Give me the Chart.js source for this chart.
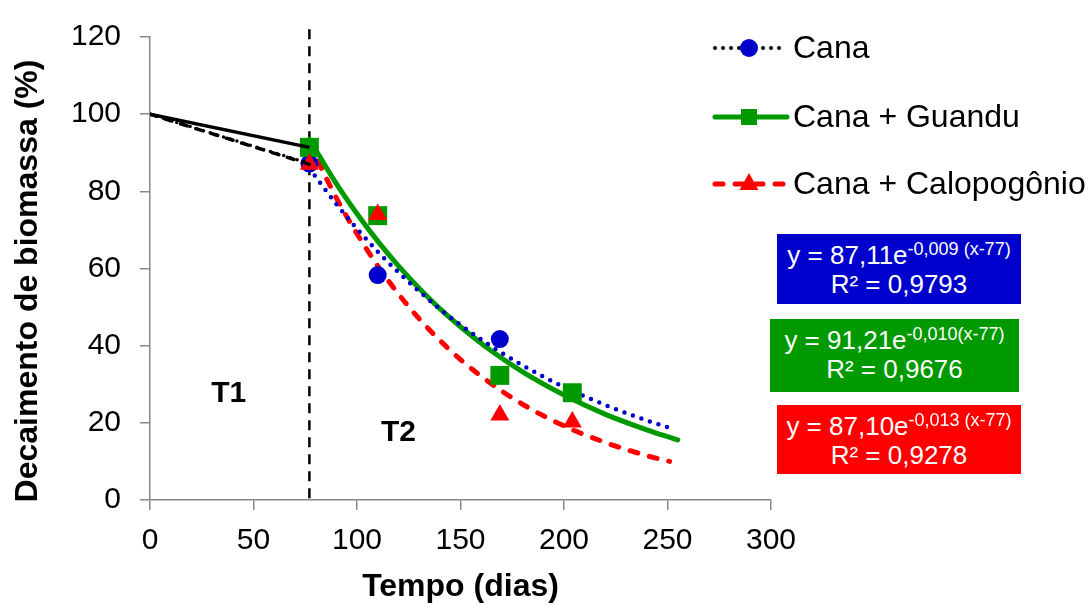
<!DOCTYPE html>
<html lang="pt-BR">
<head>
    <meta charset="UTF-8">
    <title>Decaimento de biomassa</title>
    <script src="https://cdn.jsdelivr.net/npm/chart.js"></script>
    <style>
        body { margin: 0; background: #fff; font-family: "Liberation Sans", Arial, sans-serif; }
        #wrap { position: relative; width: 1091px; height: 606px; }
        canvas { display: block; }
        .eq { position: absolute; color: #fff; text-align: center; font-size: 26px; line-height: 29px; padding-top: 7px; box-sizing: border-box; }
        .eq sup { font-size: 18px; line-height: 0; vertical-align: baseline; position: relative; top: -9px; }
    </style>
</head>
<body>
<div id="wrap">
    <canvas id="grafico" width="1091" height="606"></canvas>
    <div class="eq" style="left:777px; top:234px; width:244px; height:70px; background:#0000cc;">y = 87,11e<sup>-0,009 (x-77)</sup><br>R² = 0,9793</div>
    <div class="eq" style="left:770px; top:319px; width:249px; height:73px; background:#009900;">y = 91,21e<sup>-0,010(x-77)</sup><br>R² = 0,9676</div>
    <div class="eq" style="left:777px; top:405px; width:244px; height:69px; background:#ff0000;">y = 87,10e<sup>-0,013 (x-77)</sup><br>R² = 0,9278</div>
</div>

<script>
    // pontos observados (dias, % remanescente)
    const diasColeta = [77, 110, 169, 204];
    const canaPontos = [87.2, 58.3, 41.7, 27.8];
    const guanduPontos = [91.4, 73.7, 32.3, 27.8];
    const calopoPontos = [87.0, 74.0, 22.0, 20.2];

    // fase T1: do início (0 dias, 100%) até 77 dias
    const t1Dias = [0, 77];
    const canaT1 = [100, 87.2];
    const guanduT1 = [100, 91.4];
    const calopoT1 = [100, 87.0];

    // curvas de ajuste da fase T2
    const canaCurvaX = [77, 90, 100, 110, 120, 130, 140, 150, 165, 180, 200, 220, 240, 250];
    const canaCurvaY = [86.0, 76.7, 70.3, 64.4, 59.0, 54.1, 49.5, 45.4, 39.8, 34.9, 29.3, 24.6, 20.6, 18.9];
    const guanduCurvaX = [77, 90, 100, 110, 120, 130, 140, 150, 165, 180, 200, 220, 240, 255];
    const guanduCurvaY = [93.5, 82.0, 74.2, 67.1, 60.7, 54.9, 49.6, 44.9, 38.6, 33.2, 27.2, 22.2, 18.2, 15.6];
    const calopoCurvaX = [77, 90, 100, 110, 120, 130, 140, 150, 165, 180, 200, 220, 240, 251];
    const calopoCurvaY = [92.5, 78.3, 69.0, 60.7, 53.4, 47.0, 41.4, 36.4, 30.1, 24.8, 19.2, 14.9, 11.5, 10.0];

    // linha vertical que separa T1 de T2 (de cima para baixo)
    const divisaoX = [77, 77];
    const divisaoY = [122, 0];

    const legendas = ['Cana', 'Cana + Guandu', 'Cana + Calopogônio'];
    const fases = ['T1', 'T2'];
    const tituloY = 'Decaimento de biomassa (%)';

    const azul = '#0000cc', verde = '#009900', vermelho = '#ff0000';
    const fonte = '"Liberation Sans", Arial, sans-serif';

    function pares(xs, ys) {
        return xs.map((x, i) => ({ x: x, y: ys[i] }));
    }

    // legenda lateral, título do eixo y e rótulos T1/T2
    const extras = {
        id: 'extras',
        afterDraw(chart) {
            const ctx = chart.ctx;
            const sx = chart.scales.x, sy = chart.scales.y;
            ctx.save();

            // título do eixo y
            ctx.fillStyle = '#000';
            ctx.font = 'bold 32px ' + fonte;
            ctx.textAlign = 'center';
            ctx.textBaseline = 'middle';
            ctx.save();
            ctx.translate(28, 281);
            ctx.rotate(-Math.PI / 2);
            ctx.fillText(tituloY, 0, 0);
            ctx.restore();

            // T1 e T2
            ctx.font = 'bold 30px ' + fonte;
            ctx.fillText(fases[0], sx.getPixelForValue(38), sy.getPixelForValue(27.5));
            ctx.fillText(fases[1], sx.getPixelForValue(120), sy.getPixelForValue(17.4));

            // legenda
            const linhas = [48, 117, 184];
            const x0 = 715, x1 = 787, xm = 749;
            ctx.lineCap = 'round';

            // Cana
            ctx.strokeStyle = '#000';
            ctx.lineWidth = 4;
            ctx.setLineDash([0, 8]);
            ctx.beginPath(); ctx.moveTo(x0, linhas[0]); ctx.lineTo(x1, linhas[0]); ctx.stroke();
            ctx.setLineDash([]);
            ctx.fillStyle = azul;
            ctx.beginPath(); ctx.arc(xm, linhas[0], 9, 0, Math.PI * 2); ctx.fill();

            // Guandu
            ctx.strokeStyle = verde;
            ctx.lineWidth = 5;
            ctx.beginPath(); ctx.moveTo(x0, linhas[1]); ctx.lineTo(x1, linhas[1]); ctx.stroke();
            ctx.fillStyle = verde;
            ctx.fillRect(xm - 8, linhas[1] - 8, 16, 16);

            // Calopogônio
            ctx.strokeStyle = vermelho;
            ctx.setLineDash([8, 12]);
            ctx.beginPath(); ctx.moveTo(x0, linhas[2]); ctx.lineTo(x1, linhas[2]); ctx.stroke();
            ctx.setLineDash([]);
            ctx.fillStyle = vermelho;
            ctx.beginPath();
            ctx.moveTo(xm, linhas[2] - 11);
            ctx.lineTo(xm + 9.5, linhas[2] + 6);
            ctx.lineTo(xm - 9.5, linhas[2] + 6);
            ctx.closePath(); ctx.fill();

            ctx.fillStyle = '#000';
            ctx.font = '32px ' + fonte;
            ctx.textAlign = 'left';
            legendas.forEach((t, i) => ctx.fillText(t, 793, linhas[i] + 1));
            ctx.restore();
        }
    };

    const ctx = document.getElementById('grafico').getContext('2d');
    new Chart(ctx, {
        type: 'scatter',
        data: {
            datasets: [
                // fase T1 em preto
                { data: pares(t1Dias, canaT1), showLine: true, borderColor: '#000', borderWidth: 3.5,
                  borderDash: [0, 7], borderCapStyle: 'round', pointRadius: 0, order: 0 },
                { data: pares(t1Dias, guanduT1), showLine: true, borderColor: '#000', borderWidth: 3.5,
                  pointRadius: 0, order: 0 },
                { data: pares(t1Dias, calopoT1), showLine: true, borderColor: '#000', borderWidth: 3.5,
                  borderDash: [7, 9], borderCapStyle: 'round', pointRadius: 0, order: 0 },
                // pontos observados
                { data: pares(diasColeta, calopoPontos), pointStyle: 'triangle', pointRadius: 11,
                  backgroundColor: vermelho, borderColor: vermelho, borderWidth: 0, order: 1 },
                { data: pares(diasColeta, guanduPontos), pointStyle: 'rect', pointRadius: 13.4,
                  backgroundColor: verde, borderColor: verde, borderWidth: 0, order: 2 },
                { data: pares(diasColeta, canaPontos), pointStyle: 'circle', pointRadius: 9,
                  backgroundColor: azul, borderColor: azul, borderWidth: 0, order: 3 },
                // curvas de ajuste
                { data: pares(canaCurvaX, canaCurvaY), showLine: true, borderColor: azul, borderWidth: 4.5,
                  borderDash: [0, 9], borderCapStyle: 'round', pointRadius: 0, cubicInterpolationMode: 'monotone', order: 4 },
                { data: pares(guanduCurvaX, guanduCurvaY), showLine: true, borderColor: verde, borderWidth: 5,
                  borderCapStyle: 'round', pointRadius: 0, cubicInterpolationMode: 'monotone', order: 5 },
                { data: pares(calopoCurvaX, calopoCurvaY), showLine: true, borderColor: vermelho, borderWidth: 5,
                  borderDash: [8, 12], borderCapStyle: 'round', pointRadius: 0, cubicInterpolationMode: 'monotone', order: 6 },
                // divisão T1 | T2
                { data: pares(divisaoX, divisaoY), showLine: true, borderColor: '#000', borderWidth: 2.5,
                  borderDash: [10, 7], pointRadius: 0, clip: false, order: 7 }
            ]
        },
        options: {
            responsive: false,
            animation: false,
            layout: { padding: { left: 0, top: 25, right: 320, bottom: 0 } },
            plugins: { legend: { display: false }, tooltip: { enabled: false } },
            scales: {
                x: {
                    min: 0, max: 300,
                    afterFit: (s) => { s.height = 106; },
                    ticks: { stepSize: 50, color: '#000', padding: 13, font: { family: fonte, size: 30 } },
                    grid: { drawOnChartArea: false, drawTicks: true, tickLength: 10, color: '#888', lineWidth: 1.5 },
                    border: { color: '#888', width: 1.5 },
                    title: { display: true, text: 'Tempo (dias)', color: '#000', padding: { top: 0, bottom: 0 },
                             font: { family: fonte, size: 32, weight: 'bold' } }
                },
                y: {
                    min: 0, max: 120,
                    afterFit: (s) => { s.width = 150; },
                    ticks: { stepSize: 20, color: '#000', padding: 19, font: { family: fonte, size: 30 } },
                    grid: { drawOnChartArea: false, drawTicks: true, tickLength: 10, color: '#888', lineWidth: 1.5 },
                    border: { color: '#888', width: 1.5 }
                }
            }
        },
        plugins: [extras]
    });
</script>
</body>
</html>
